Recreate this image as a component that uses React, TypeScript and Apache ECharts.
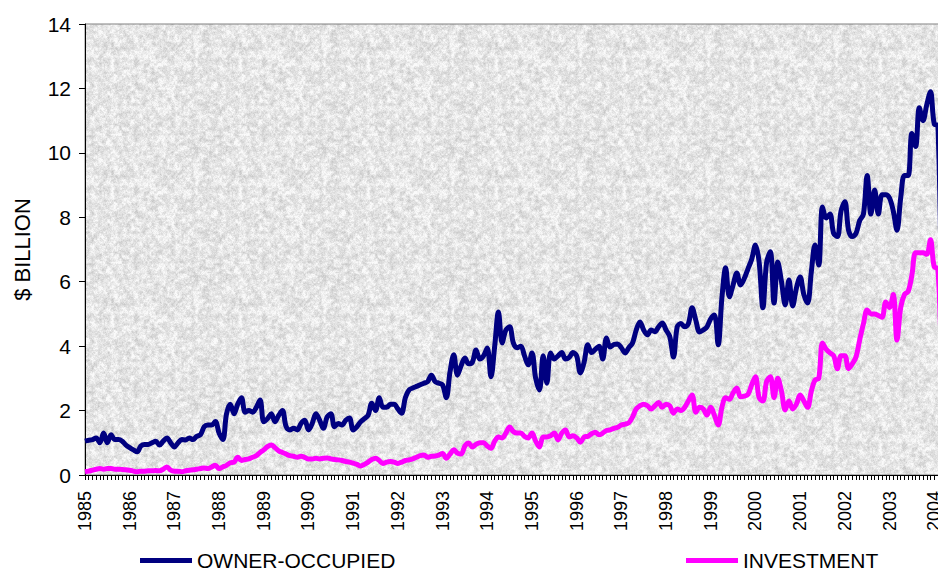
import React, { useEffect, useRef } from "react";
import * as echarts from "echarts";

const START_YEAR = 1985;
const seriesNames = ["OWNER-OCCUPIED", "INVESTMENT"];

// Monthly values, $ billion, Jan 1985 onward (12 per row)
const ownerOccupied = [
  1.05, 1.08, 1.1, 1.15, 1.0, 1.3, 1.0, 1.25, 1.1, 1.1, 1.05, 0.93,
  0.85, 0.78, 0.72, 0.9, 0.95, 0.95, 1.0, 1.05, 0.93, 1.05, 1.15, 1.0,
  0.87, 1.0, 1.1, 1.09, 1.15, 1.1, 1.2, 1.25, 1.5, 1.55, 1.55, 1.66,
  1.3, 1.1, 1.9, 2.2, 1.9, 2.2, 2.4, 1.95, 2.0, 1.95, 2.1, 2.33,
  1.65, 1.75, 1.9, 1.65, 1.85, 2.0, 1.5, 1.4, 1.45, 1.4, 1.6, 1.7,
  1.4, 1.6, 1.9, 1.7, 1.45, 1.8, 1.9, 1.5, 1.6, 1.55, 1.7, 1.77,
  1.4, 1.5, 1.65, 1.75, 1.85, 2.23, 2.0, 2.4, 2.1, 2.1, 2.2, 2.2,
  2.05, 1.92, 2.4, 2.64, 2.7, 2.75, 2.8, 2.85, 2.9, 3.1, 2.9, 2.85,
  2.8, 2.4, 3.2, 3.73, 3.1, 3.4, 3.63, 3.45, 3.5, 3.88, 3.6, 3.7,
  3.94, 3.05, 4.0, 5.06, 4.1, 4.5, 4.6, 4.1, 3.95, 4.0, 3.7, 3.42,
  3.79, 3.0, 2.64, 3.7, 2.85, 3.79, 3.6, 3.7, 3.8, 3.6, 3.65, 3.8,
  3.7, 3.17, 3.5, 4.04, 3.8, 3.9, 4.0, 3.6, 4.25, 3.97, 4.05, 4.07,
  3.95, 3.79, 3.95, 4.1, 4.5, 4.75, 4.5, 4.35, 4.5, 4.45, 4.6, 4.72,
  4.5, 4.3, 3.66, 4.6, 4.7, 4.6, 4.7, 5.19, 4.8, 4.44, 4.5, 4.6,
  4.85, 4.97, 4.04, 5.5, 6.43, 5.53, 5.9, 6.27, 5.9, 6.1, 6.4, 6.7,
  7.14, 6.6, 5.19, 6.6, 6.93, 5.34, 6.61, 6.0, 5.28, 6.05, 5.25, 5.8,
  6.15, 5.6, 5.34, 6.3, 7.14, 6.52, 8.32, 7.98, 8.1, 7.5, 7.4, 8.2,
  8.48, 7.6, 7.4, 7.5, 7.9, 8.1, 9.3, 8.1, 8.85, 8.1, 8.7, 8.7,
  8.6, 8.2, 7.6, 8.6, 9.3, 9.3, 10.6, 10.2, 11.4, 11.0, 11.5, 11.9,
  10.9, 10.85, 4.5,
];

const investment = [
  0.1, 0.12, 0.15, 0.18, 0.2, 0.18, 0.2, 0.2, 0.18, 0.18, 0.17, 0.16,
  0.15, 0.12, 0.1, 0.12, 0.12, 0.13, 0.13, 0.14, 0.13, 0.18, 0.25, 0.15,
  0.12, 0.12, 0.1, 0.13, 0.15, 0.16, 0.18, 0.2, 0.22, 0.2, 0.25, 0.3,
  0.2, 0.25, 0.3, 0.38, 0.4, 0.55, 0.45, 0.48, 0.5, 0.55, 0.6, 0.7,
  0.78, 0.88, 0.93, 0.85, 0.75, 0.7, 0.65, 0.6, 0.58, 0.55, 0.58, 0.55,
  0.5, 0.5, 0.52, 0.5, 0.52, 0.53, 0.5, 0.48, 0.47, 0.45, 0.42, 0.4,
  0.37, 0.33, 0.28, 0.33, 0.4, 0.48, 0.52, 0.45, 0.36, 0.4, 0.42, 0.4,
  0.36, 0.4, 0.45, 0.47, 0.5, 0.55, 0.6, 0.62, 0.55, 0.58, 0.59, 0.62,
  0.67, 0.52, 0.65, 0.78, 0.68, 0.65, 0.9, 0.99, 0.87, 0.95, 1.0, 1.0,
  0.9, 0.83, 1.05, 1.18, 1.15, 1.3, 1.49, 1.35, 1.3, 1.3, 1.2, 1.15,
  1.3, 1.05, 0.87, 1.18, 1.18, 1.22, 1.3, 1.09, 1.3, 1.4, 1.18, 1.22,
  1.15, 1.02, 1.18, 1.2, 1.28, 1.33, 1.25, 1.3, 1.38, 1.4, 1.45, 1.48,
  1.55, 1.58, 1.62, 1.8, 2.05, 2.15, 2.2, 2.15, 2.05, 2.15, 2.25, 2.1,
  2.2, 2.15, 1.92, 2.05, 2.0, 2.1, 2.3, 2.48, 1.95, 2.1, 2.05, 1.86,
  2.1, 1.85, 1.55, 2.1, 2.4, 2.35, 2.55, 2.7, 2.43, 2.45, 2.5, 2.8,
  3.05, 2.4, 2.3, 2.9, 3.05, 2.4, 3.0, 2.6, 2.02, 2.3, 2.05, 2.2,
  2.48, 2.3, 2.1, 2.6, 2.95, 3.0, 4.1, 3.9, 3.79, 3.7, 3.3, 3.7,
  3.7, 3.3, 3.45, 3.66, 4.2, 4.7, 5.12, 5.0, 5.0, 4.95, 4.9, 5.37,
  5.2, 5.6, 4.19, 5.2, 5.6, 5.7, 6.2, 6.9, 6.9, 6.9, 6.85, 7.3,
  6.46, 6.4, 3.0,
];

const colors = ["#000080", "#ff00ff"];

// Decorative mottled grey texture for the plot background (deterministic hash noise)
function makeTexture(): HTMLCanvasElement {
  const size = 128;
  const c = document.createElement("canvas");
  c.width = size;
  c.height = size;
  const ctx = c.getContext("2d")!;
  const img = ctx.createImageData(size, size);
  const hash = (x: number, y: number, s: number) => {
    const h = Math.sin(x * 127.1 + y * 311.7 + s * 74.7) * 43758.5453;
    return h - Math.floor(h);
  };
  const smooth = (t: number) => t * t * (3 - 2 * t);
  const noise = (x: number, y: number, cell: number, seed: number) => {
    const cells = size / cell;
    const gx = x / cell;
    const gy = y / cell;
    const x0 = Math.floor(gx);
    const y0 = Math.floor(gy);
    const fx = smooth(gx - x0);
    const fy = smooth(gy - y0);
    const w = (v: number) => ((v % cells) + cells) % cells;
    const a = hash(w(x0), w(y0), seed);
    const b = hash(w(x0 + 1), w(y0), seed);
    const cc = hash(w(x0), w(y0 + 1), seed);
    const d = hash(w(x0 + 1), w(y0 + 1), seed);
    return a + (b - a) * fx + (cc - a) * fy + (a - b - cc + d) * fx * fy;
  };
  for (let y = 0; y < size; y++) {
    for (let x = 0; x < size; x++) {
      const v =
        0.4 * noise(x, y, 4, 1) + 0.35 * noise(x, y, 2, 2) + 0.25 * hash(x, y, 5);
      let g = 230 + (v - 0.5) * 80;
      g = Math.max(190, Math.min(250, g));
      const i = (y * size + x) * 4;
      img.data[i] = g;
      img.data[i + 1] = g;
      img.data[i + 2] = g;
      img.data[i + 3] = 255;
    }
  }
  ctx.putImageData(img, 0, 0);
  return c;
}

export default function App() {
  const ref = useRef<HTMLDivElement>(null);
  useEffect(() => {
    const chart = echarts.init(ref.current!, null, { renderer: "svg" });
    const font = "'Liberation Sans', Arial, Helvetica, sans-serif";
    let bg: any = "#e3e3e3";
    try {
      bg = { image: makeTexture(), repeat: "repeat" };
    } catch (e) {
      bg = "#e3e3e3";
    }
    const legendBase = {
      top: 550,
      padding: 0,
      icon: "rect",
      itemWidth: 52,
      itemHeight: 5,
      itemGap: 4,
      textStyle: { fontSize: 21, color: "#000", fontFamily: font },
    };
    chart.setOption({
      animation: false,
      textStyle: { fontFamily: font },
      grid: {
        left: 85,
        top: 24,
        right: 12,
        bottom: 97,
        show: true,
        backgroundColor: bg,
        borderColor: "#808080",
        borderWidth: 1,
      },
      legend: [
        { ...legendBase, left: 140, data: [seriesNames[0]] },
        { ...legendBase, left: 686, data: [seriesNames[1]] },
      ],
      xAxis: {
        type: "value",
        min: 0,
        max: 231.7,
        interval: 12,
        axisLine: { lineStyle: { color: "#000", width: 1 } },
        axisTick: { show: true, length: 5, lineStyle: { color: "#000" } },
        minorTick: { show: true, splitNumber: 12, length: 5, lineStyle: { color: "#000" } },
        splitLine: { show: false },
        minorSplitLine: { show: false },
        axisLabel: {
          rotate: 90,
          margin: 16,
          fontSize: 18,
          color: "#000",
          fontFamily: font,
          formatter: (v: number) => (v % 12 === 0 ? String(START_YEAR + v / 12) : ""),
        },
      },
      yAxis: {
        type: "value",
        min: 0,
        max: 14,
        interval: 2,
        name: "$ BILLION",
        nameLocation: "middle",
        nameGap: 52,
        nameTextStyle: { fontSize: 22, color: "#000", fontFamily: font },
        axisLine: { show: true, lineStyle: { color: "#000", width: 1 } },
        axisTick: { show: true, length: 6, lineStyle: { color: "#000" } },
        axisLabel: { fontSize: 21, color: "#000", margin: 14, fontFamily: font },
        splitLine: { show: false },
      },
      series: [
        {
          name: seriesNames[0],
          type: "line",
          data: ownerOccupied.map((v, i) => [i, v]),
          symbol: "none",
          smooth: 0.35,
          clip: true,
          lineStyle: { color: colors[0], width: 5 },
          itemStyle: { color: colors[0] },
        },
        {
          name: seriesNames[1],
          type: "line",
          data: investment.map((v, i) => [i, v]),
          symbol: "none",
          smooth: 0.35,
          clip: true,
          lineStyle: { color: colors[1], width: 5 },
          itemStyle: { color: colors[1] },
        },
      ],
    });
    return () => chart.dispose();
  }, []);
  return (
    <div
      style={{
        position: "absolute",
        left: 0,
        top: 0,
        width: 938,
        height: 572,
        overflow: "hidden",
      }}
    >
      <div ref={ref} style={{ width: 960, height: 572 }} />
    </div>
  );
}
